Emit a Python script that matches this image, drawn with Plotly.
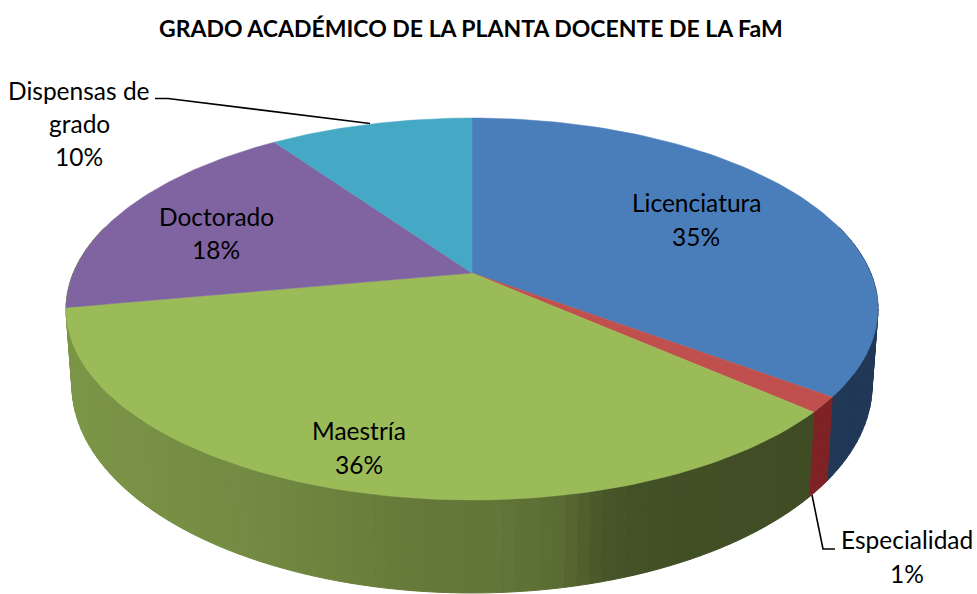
import numpy as np
import plotly.graph_objects as go

categories = ['Licenciatura', 'Especialidad', 'Maestría', 'Doctorado', 'Dispensas de grado']
percent = [35.2, 1.3, 35.6, 18.2, 9.7]
colors = ['#4a7ebb', '#c0504d', '#9bbb59', '#8064a2', '#45a9c6']
wall_colors = ['#4a80c4', '#c8363c', '#9bbb59', '#9bbb59', '#45a9c6']
wall_gain = [1.1, 1.55, 1, 1, 1]
title = 'GRADO ACADÉMICO DE LA PLANTA DOCENTE DE LA FaM'

FONT = 'Lato'
K = 0.1885  # perspective of the tilted disc


def rim(theta, apex_y, a, b):
    """project a clockwise angle from 12 o'clock on to the tilted disc"""
    u = np.sin(theta)
    v = -np.cos(theta)
    w = 1 - K * v
    return 472 + a * u / w, apex_y + b * v / w


def top_rim(theta):
    return rim(theta, 273, 398.7, 184.2)


def bottom_rim(theta):
    return rim(theta, 345.8, 392.9, 200.6)


def shade(color, x, gain):
    f = np.interp(x, [66, 200, 300, 400, 500, 560, 600, 650, 750, 878],
                  [0.80, 0.76, 0.72, 0.66, 0.63, 0.58, 0.47, 0.43, 0.42, 0.40])
    rgb = [int(color[i:i + 2], 16) for i in (1, 3, 5)]
    return 'rgb(%d,%d,%d)' % tuple(c * f * gain for c in rgb)


fig = go.Figure()

edges = np.cumsum([0] + percent) / sum(percent) * 2 * np.pi

# outer wall first, in thin strips so it can carry the gradient
# the green wall runs on past the end of its slice up to the silhouette
wall_edges = edges.copy()
wall_edges[3] = np.radians(285)
for i, color in enumerate(wall_colors):
    start, end = max(wall_edges[i], np.radians(75)), min(wall_edges[i + 1], np.radians(285))
    if end <= start:
        continue
    steps = max(int(np.degrees(end - start) / 1.5), 1)
    cuts = np.linspace(start, end, steps + 1)
    for t0, t1 in zip(cuts[:-1], cuts[1:]):
        ts = np.array([t0, t1])
        x0, y0 = top_rim(ts)
        x1, y1 = bottom_rim(ts[::-1])
        strip = shade(color, x0.mean(), wall_gain[i])
        fig.add_trace(go.Scatter(
            x = np.r_[x0, x1, x0[0]],
            y = np.r_[y0, y1, y0[0]],
            mode = 'lines',
            fill = 'toself',
            fillcolor = strip,
            line = dict(color = strip, width = 1),
            hoverinfo = 'skip'
        ))

# top face of the pie
for i, color in enumerate(colors):
    ts = np.linspace(edges[i], edges[i + 1], 90)
    x, y = top_rim(ts)
    fig.add_trace(go.Scatter(
        x = np.r_[472, x, 472],
        y = np.r_[273, y, 273],
        mode = 'lines',
        fill = 'toself',
        fillcolor = color,
        line = dict(color = color, width = 0.5),
        name = categories[i],
        hoverinfo = 'skip'
    ))

# leader lines
fig.add_trace(go.Scatter(x = [155, 168, 370], y = [98.5, 98.5, 123.5], mode = 'lines',
                         line = dict(color = 'black', width = 1.6), hoverinfo = 'skip'))
fig.add_trace(go.Scatter(x = [812, 823, 835], y = [495, 549, 549], mode = 'lines',
                         line = dict(color = 'black', width = 1.6), hoverinfo = 'skip'))


def label(x, y, text, size = 24.5, bold = False):
    if bold:
        text = '<b>%s</b>' % text
    fig.add_annotation(x = x, y = y, text = text, showarrow = False,
                       xanchor = 'center', yanchor = 'middle',
                       font = dict(family = FONT, size = size, color = 'black'))


label(471, 28, title, size = 23, bold = True)
label(696, 202, categories[0])
label(696, 236, '%.0f%%' % percent[0])
label(907, 539, categories[1])
label(907, 573, '%.0f%%' % percent[1])
label(359, 430, categories[2])
label(359, 464, '%.0f%%' % percent[2])
label(216, 216, categories[3])
label(216, 249, '%.0f%%' % percent[3])
label(79, 90, 'Dispensas de')
label(79, 123, 'grado')
label(79, 156, '%.0f%%' % percent[4])

fig.update_layout(
    width = 977,
    height = 594,
    margin = dict(l = 0, r = 0, t = 0, b = 0),
    paper_bgcolor = 'white',
    plot_bgcolor = 'white',
    showlegend = False,
    xaxis = dict(range = [0, 977], visible = False, fixedrange = True),
    yaxis = dict(range = [594, 0], visible = False, fixedrange = True)
)

# drop the page's default body margin so the plot fills the window
fig.write_html("out.html", config = dict(displayModeBar = False),
               post_script = "document.body.style.margin = '0';")
